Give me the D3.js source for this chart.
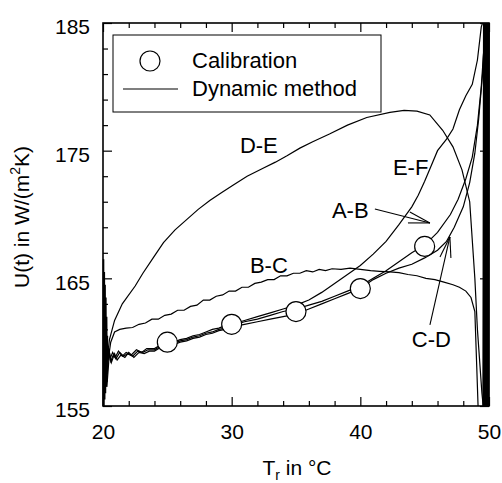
<!DOCTYPE html>
<html><head><meta charset="utf-8">
<script src="https://cdn.jsdelivr.net/npm/d3@7"></script>
<style>body{margin:0;background:#fff}svg{display:block}text{font-family:"Liberation Sans",Arial,sans-serif;fill:#000}</style>
</head><body><svg id="c" width="502" height="483"></svg>
<script>
// ---- data ----
const calibT = [25, 30, 35, 40, 45];
const calibU = [160.0, 161.4, 162.4, 164.2, 167.5];

const curveAB = [[20.3,157],[20.45,159.5],[20.6,158.5],[20.8,159.0],[21.0,158.7],[21.3,159.2],[21.6,158.9],[21.9,159.1],[22.3,158.9],[22.7,159.3],[23.1,159.2],[23.5,159.4],[24,159.4],[24.5,159.7],[25,159.8],[25.5,159.9],[26,160.1],[26.5,160.2],[27,160.4],[27.5,160.5],[28,160.7],[28.5,160.8],[29,161.0],[29.5,161.1],[30,161.3],[31,161.6],[32,161.8],[33,162.1],[34,162.4],[35,162.6],[36,162.9],[37,163.2],[38,163.6],[39,164.0],[40,164.4],[41,165.0],[42,165.6],[43,166.3],[44,167.0],[45,167.6],[46,168.6],[47,170.0],[47.6,171.2],[48.2,172.8],[48.7,174.5],[49.1,177],[49.4,180],[49.6,183],[49.7,185]];
const curveCD = [[20.3,156.5],[20.5,159.2],[20.65,158.4],[20.9,159.1],[21.1,158.6],[21.4,159.0],[21.7,158.8],[22.0,159.2],[22.4,158.8],[22.8,159.2],[23.2,159.1],[23.6,159.3],[24,159.3],[24.5,159.6],[25,159.7],[25.5,159.8],[26,160.0],[26.5,160.1],[27,160.3],[27.5,160.4],[28,160.6],[28.5,160.7],[29,160.9],[29.5,161.0],[30,161.2],[31,161.4],[32,161.6],[33,161.8],[34,162.0],[35,162.2],[36,162.6],[37,163.0],[38,163.4],[39,163.8],[40,164.2],[41,164.9],[42,165.4],[43,165.8],[44,166.1],[45,166.6],[46,167.2],[46.7,167.9],[47.3,169.0],[48,170.6],[48.5,172.5],[48.9,174.8],[49.2,177.5],[49.5,181],[49.7,185]];
const curveEF = [[20.25,157.5],[20.4,159.7],[20.55,158.7],[20.75,159.2],[20.95,158.8],[21.2,159.3],[21.5,158.9],[21.8,159.2],[22.2,159.0],[22.6,159.4],[23.0,159.2],[23.4,159.5],[24,159.5],[24.5,159.8],[25,159.9],[25.5,160.0],[26,160.2],[26.5,160.3],[27,160.5],[27.5,160.6],[28,160.8],[28.5,161.0],[29,161.1],[29.5,161.3],[30,161.4],[31,161.7],[32,162.0],[33,162.3],[34,162.6],[35,162.9],[36,163.3],[37,163.9],[38,164.6],[39,165.3],[40,166.0],[41,166.9],[42,167.9],[43,169.2],[44,170.6],[44.5,171.5],[45,172.6],[45.5,173.8],[46,175.0],[46.7,175.9],[47.2,176.7],[47.7,178.2],[48.2,179.3],[48.7,180.2],[49.1,182.1],[49.4,184.7],[49.5,185]];
const curveDE = [[20.3,158.5],[20.5,160.2],[20.9,161.7],[21.5,163.0],[22.5,164.4],[23.1,165.4],[23.9,166.6],[24.7,167.8],[25.6,168.8],[26.5,169.6],[27.4,170.4],[28.3,171.1],[29.2,171.7],[30.1,172.3],[31.2,173.0],[32.4,173.6],[33.4,174.1],[34.3,174.6],[35.3,175.2],[36.3,175.7],[37.6,176.3],[39.0,177.0],[40.5,177.6],[42.3,178.0],[43.4,178.15],[44.4,178.1],[45.4,177.8],[46.4,176.6],[47.2,175.3],[47.9,173.5],[48.5,171.0],[48.9,165.0],[49.1,161.0],[49.45,156.0],[49.55,155]];
const curveBC = [[20.4,158.6],[20.6,160.0],[20.9,160.8],[21.3,161.0],[21.8,161.1],[22.3,161.15],[22.8,161.4],[23.3,161.5],[23.8,161.8],[24.3,161.8],[24.8,162.1],[25.3,162.2],[25.8,162.5],[26.3,162.5],[26.8,162.8],[27.3,162.9],[27.8,163.3],[28.3,163.3],[28.8,163.6],[29.3,163.7],[29.8,164.0],[30.3,164.0],[30.8,164.3],[31.3,164.3],[31.8,164.6],[32.3,164.7],[32.8,164.9],[33.3,164.9],[33.8,165.2],[34.3,165.2],[34.8,165.4],[35.3,165.4],[35.8,165.6],[36.3,165.5],[36.8,165.7],[37.3,165.6],[37.8,165.75],[38.5,165.7],[39.2,165.8],[40,165.7],[40.8,165.6],[41.5,165.55],[42.3,165.5],[43,165.45],[43.7,165.3],[44.4,165.2],[45.1,165.0],[45.8,164.9],[46.5,164.7],[47.2,164.5],[47.7,164.3],[48.2,164.0],[48.6,163.5],[48.9,162.4],[49.05,158],[49.15,155]];
const startSpikes = [[20.02,155],[20.04,166.5],[20.07,155],[20.1,165.5],[20.13,155.5],[20.16,164.5],[20.19,156],[20.22,163.5],[20.25,156.5],[20.28,162],[20.31,157.5],[20.34,160.5]];
const endSpikes = [[49.55,155],[49.6,185],[49.65,155],[49.7,185],[49.75,155],[49.8,185],[49.85,155],[49.9,185],[49.95,155],[50,185]];

const xMajor = [20, 30, 40, 50];
const yMajor = [155, 165, 175, 185];
const curveLabels = [
  {text:"D-E", T:30.64, U:174.82},
  {text:"B-C", T:31.42, U:165.42},
  {text:"E-F", T:42.53, U:173.1},
  {text:"A-B", T:37.79, U:169.73},
  {text:"C-D", T:44.0, U:159.63}
];
const arrows = [
  {from:[41.13,170.43], to:[45.41,169.34], heads:[[43.85,170.2],[43.7,169.34]]},
  {from:[45.41,161.35], to:[46.96,168.24], heads:[[46.19,166.68],[47.04,166.6]]}
];
const legendItems = ["Calibration", "Dynamic method"];

// ---- chart ----
const svg = d3.select("#c");
const x = d3.scaleLinear().domain([20,50]).range([103,489]);
const y = d3.scaleLinear().domain([155,185]).range([406,23]);
const xMinor = d3.range(20,51,2).filter(v => v%10!==0);
const yMinor = d3.range(155,186,2).filter(v => (v-155)%10!==0);

const line = d3.line().x(d=>x(d[0])).y(d=>y(d[1]));
const curves = svg.append("g").attr("fill","none").attr("stroke","#000");
[curveDE, curveBC, curveAB, curveCD, curveEF].forEach(c =>
  curves.append("path").attr("d", line(c)).attr("stroke-width",1.2));
curves.append("path").attr("d", line(startSpikes)).attr("stroke-width",1.6);
curves.append("path").attr("d", line(endSpikes)).attr("stroke-width",1.8);

// axes
function ax(gen, sel, vals, size, labels){
  const a = gen(sel==="b"||sel==="t"?x:y).tickValues(vals).tickSizeInner(-size).tickSizeOuter(0);
  if(!labels) a.tickFormat("");
  return a;
}
const gB = svg.append("g").attr("transform","translate(0,406)");
gB.call(ax(d3.axisBottom,"b",xMajor,9,true).tickPadding(18));
gB.append("g").call(ax(d3.axisBottom,"b",xMinor,5,false));
const gT = svg.append("g").attr("transform","translate(0,23)");
gT.call(ax(d3.axisTop,"t",xMajor,9,false));
gT.append("g").call(ax(d3.axisTop,"t",xMinor,5,false));
const gL = svg.append("g").attr("transform","translate(103,0)");
gL.call(ax(d3.axisLeft,"l",yMajor,9,true).tickPadding(13));
gL.append("g").call(ax(d3.axisLeft,"l",yMinor,5,false));
const gR = svg.append("g").attr("transform","translate(489,0)");
gR.call(ax(d3.axisRight,"r",yMajor,9,false));
gR.append("g").call(ax(d3.axisRight,"r",yMinor,5,false));
svg.selectAll(".domain").remove();
svg.selectAll(".tick line").attr("stroke","#000").attr("stroke-width",1.2);
svg.selectAll(".tick text").attr("font-size",21).style("font-family",'"Liberation Sans",Arial,sans-serif').attr("fill","#000");
gL.selectAll(".tick text").attr("dy","0.52em");

svg.append("rect").attr("x",103).attr("y",23).attr("width",386).attr("height",383)
  .attr("fill","none").attr("stroke","#000").attr("stroke-width",1.6);

// calibration markers
svg.append("g").selectAll("circle").data(calibT).join("circle")
  .attr("cx",(d)=>x(d)).attr("cy",(d,i)=>y(calibU[i])).attr("r",10)
  .attr("fill","#fff").attr("stroke","#000").attr("stroke-width",1.2);

// curve labels
svg.append("g").selectAll("text").data(curveLabels).join("text")
  .attr("x",d=>x(d.T)).attr("y",d=>y(d.U)).attr("font-size",22).text(d=>d.text);

// arrows
const ag = svg.append("g").attr("stroke","#000").attr("stroke-width",1.1).attr("fill","none");
arrows.forEach(a=>{
  ag.append("path").attr("d", line([a.from,a.to]));
  a.heads.forEach(h=> ag.append("path").attr("d", line([h,a.to])));
});

// legend
const lg = svg.append("g");
lg.append("rect").attr("x",113).attr("y",35).attr("width",268).attr("height",77)
  .attr("fill","#fff").attr("stroke","#000").attr("stroke-width",1);
lg.append("circle").attr("cx",150).attr("cy",61).attr("r",10).attr("fill","#fff").attr("stroke","#000").attr("stroke-width",1.2);
lg.append("line").attr("x1",123).attr("x2",178).attr("y1",89).attr("y2",89).attr("stroke","#000").attr("stroke-width",1.2);
lg.append("text").attr("x",192).attr("y",68).attr("font-size",22).text(legendItems[0]);
lg.append("text").attr("x",192).attr("y",96).attr("font-size",22).text(legendItems[1]);

// axis titles
const xt = svg.append("text").attr("x",297).attr("y",475).attr("text-anchor","middle").attr("font-size",21);
xt.append("tspan").text("T");
xt.append("tspan").attr("font-size",14).attr("dy",5).text("r");
xt.append("tspan").attr("dy",-5).text(" in °C");
const yt = svg.append("text").attr("transform","translate(29,217) rotate(-90)").attr("text-anchor","middle").attr("font-size",21);
yt.append("tspan").text("U(t) in W/(m");
yt.append("tspan").attr("font-size",14).attr("dy",-9).text("2");
yt.append("tspan").attr("dy",9).text("K)");
</script></body></html>
